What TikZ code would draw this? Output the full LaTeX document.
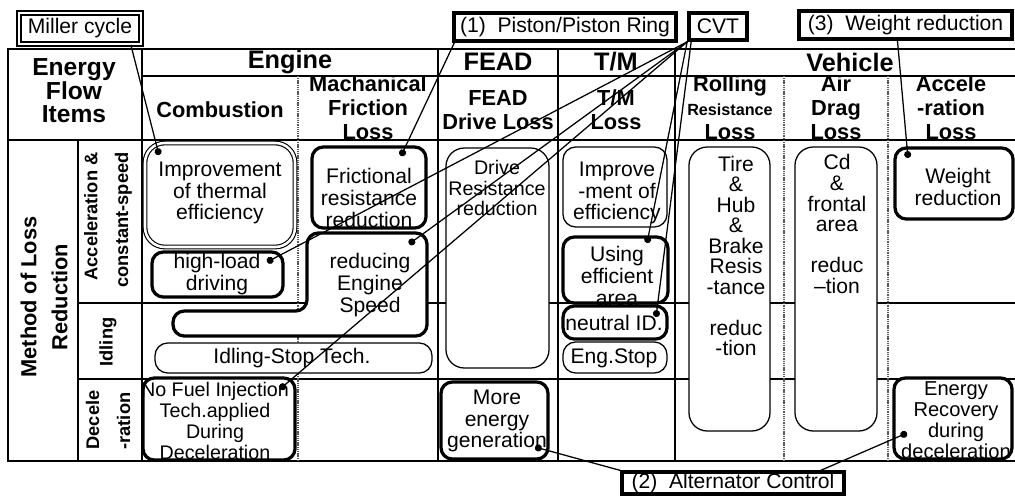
\documentclass[tikz,border=0pt]{standalone}
\usepackage{fontspec}
\setmainfont{Liberation Sans}
\usetikzlibrary{calc}
\usetikzlibrary{arrows.meta}
\newlength{\pu}
\setlength{\pu}{0.025cm}

\tikzset{
  tablerule/.style={line width=2pt},
  subrule/.style={line width=1.4pt},
  dashrule/.style={line width=2pt, black!65, dash pattern=on 0.8pt off 0.5pt},
  softbox/.style={draw, fill=white, line width=0.9pt, rounded corners=9pt},
  hardbox/.style={draw, fill=white, line width=2.3pt, rounded corners=8pt},
  calltag/.style={draw, fill=white, line width=2.2pt, inner sep=0pt, font=\fontsize{15}{15}\selectfont},
  txt/.style={align=center, inner sep=0pt, font=\fontsize{15}{15.4}\selectfont},
  hdr/.style={align=center, inner sep=0pt, font=\bfseries\fontsize{15.5}{17}\selectfont},
  toprow/.style={inner sep=0pt, font=\bfseries\fontsize{18}{20}\selectfont},
  sidelab/.style={rotate=90, inner sep=0pt, font=\bfseries\fontsize{13}{22}\selectfont},
  pointer/.style={line width=0.9pt, -{Circle[length=5pt]}}
}

\begin{document}
\begin{tikzpicture}[x=1\pu, y=-1\pu]
\useasboundingbox (0,0) rectangle (1015,496);

% table frame
\draw[tablerule] (1015,49) -- (8,49) -- (8,461) -- (1015,461);
\draw[tablerule] (142,76) -- (1015,76);
\draw[tablerule] (8,140) -- (1015,140);
\draw[subrule] (78,303) -- (1015,303);
\draw[subrule] (78,379) -- (1015,379);
\draw[subrule] (78,140) -- (78,461);
\draw[tablerule] (142,49) -- (142,461);
\foreach \xx in {438,558,675} \draw[tablerule] (\xx,49) -- (\xx,461);
\foreach \xx in {298,784,888} \draw[dashrule] (\xx,76) -- (\xx,461);

% headers
\node[hdr, font=\bfseries\fontsize{17.5}{16.7}\selectfont] (items) at (74,91) {Energy\\Flow\\Items};
\node[toprow] (engine) at (290,62) {Engine};
\node[toprow] (fead) at (498,62) {FEAD};
\node[toprow] (tm) at (616,62) {T/M};
\node[toprow] (vehicle) at (850,62) {Vehicle};
\node[hdr] (comb) at (220,110) {Combustion};
\node[hdr] (mech) at (368,108) {Machanical\\Friction\\Loss};
\node[hdr] (feadloss) at (498,110) {FEAD\\Drive Loss};
\node[hdr] (tmloss) at (616,110) {T/M\\Loss};
\node[hdr] (roll) at (730,108) {Rolling\\{\fontsize{11.5}{17}\selectfont Resistance}\\Loss};
\node[hdr] (airdrag) at (836,108) {Air\\Drag\\Loss};
\node[hdr] (accloss) at (951,108) {Accele\\-ration\\Loss};

% row labels
\node[sidelab, align=center, font=\bfseries\fontsize{15.5}{22}\selectfont] (method) at (44,297) {Method of Loss\\Reduction};
\node[sidelab, align=right] (accrow) at (108,220) {Acceleration \&\\constant-speed};
\node[sidelab] (idlrow) at (108,342) {Idling};
\node[sidelab, align=left] (decrow) at (108,420) {Decele\\-ration};

% engine
\draw[softbox, double, double distance=1.8pt, line width=0.8pt, rounded corners=14pt] (145,143) rectangle (295,247);
\node[txt] (thermal) at (220,193) {Improvement\\of thermal\\efficiency};
\draw[hardbox] (152,252) rectangle (283,297);
\node[txt] (highload) at (217,274) {high-load\\driving};
\draw[hardbox] (312,147) rectangle (426,228);
\node[txt] (fric) at (369,198) {Frictional\\resistance\\reduction};
\draw[hardbox] (307,233) -- (427,233) -- (427,336) -- (173,336) -- (173,311) -- (307,311) -- cycle;
\node[txt] (engspd) at (370,285) {reducing\\Engine\\Speed};
\draw[softbox] (155,343) rectangle (432,373);
\node[txt] (idlestop) at (292,358) {Idling-Stop Tech.};
\draw[hardbox] (143,378) rectangle (295,460);
\node[txt, font=\fontsize{14}{15}\selectfont] (nofuel) at (215,421) {No Fuel Injection\\Tech.applied\\During\\Deceleration};

% FEAD
\draw[softbox, rounded corners=13pt] (446,148) rectangle (549,368);
\node[txt, font=\fontsize{14}{14.6}\selectfont] (drive) at (497,188) {Drive\\Resistance\\reduction};
\draw[hardbox] (441,382) rectangle (548,459);
\node[txt] (moreen) at (497,421) {More\\energy\\generation};

% T/M
\draw[softbox] (563,147) rectangle (667,227);
\node[txt] (tmimp) at (617,193) {Improve\\-ment of\\efficiency};
\draw[hardbox] (563,237) rectangle (668,303);
\node[txt] (usearea) at (617,276) {Using\\efficient\\area};
\draw[hardbox] (563,306) rectangle (667,339);
\node[txt] (neutral) at (614,323) {neutral ID.};
\draw[softbox] (563,342) rectangle (667,373);
\node[txt] (engstop) at (614,358) {Eng.Stop};

% vehicle
\draw[softbox, rounded corners=13pt] (689,147) rectangle (770,431);
\node[txt, font=\fontsize{15}{14.6}\selectfont] (tire) at (736,256) {Tire\\\&\\Hub\\\&\\Brake\\Resis\\-tance\\[14.6pt]reduc\\-tion};
\draw[softbox, rounded corners=13pt] (795,147) rectangle (877,431);
\node[txt, font=\fontsize{15}{14.6}\selectfont] (cd) at (837,224) {Cd\\\&\\frontal\\area\\[14.6pt]reduc\\–tion};
\draw[hardbox] (895,148) rectangle (1013,219);
\node[txt] (weight) at (958,187) {Weight\\reduction};
\draw[hardbox] (894,378) rectangle (1012,459);
\node[txt, font=\fontsize{14.3}{15}\selectfont] (recov) at (956,420) {Energy\\Recovery\\during\\deceleration};

% callouts
\node[calltag, double, double distance=1.6pt, line width=1.2pt, minimum width=122\pu, minimum height=31\pu] (miller) at (80,28.5) {Miller cycle};
\node[calltag, minimum width=222\pu, minimum height=28\pu] (piston) at (565,27) {(1)\ \ Piston/Piston Ring};
\node[calltag, line width=2.6pt, minimum width=58\pu, minimum height=27\pu] (cvt) at (718,26.5) {CVT};
\node[calltag, minimum width=213\pu, minimum height=28\pu] (wcall) at (905.5,25) {(3)\ \ Weight reduction};
\node[calltag, minimum width=222\pu, minimum height=22\pu] (alt) at (733,483) {(2)\ \ Alternator Control};

% dot ends
\coordinate (dThermal) at (159,155);
\coordinate (dFric) at (401,156);
\coordinate (dHigh) at (267,262);
\coordinate (dSpeed) at (409,244);
\coordinate (dNoFuel) at (280,389);
\coordinate (dArea) at (647,243);
\coordinate (dNeutral) at (656,317);
\coordinate (dWeight) at (908,158);
\coordinate (dMore) at (535,447);
\coordinate (dRecov) at (907,433);

\draw[pointer] ($(miller.south east)+(-11,0)$) -- (dThermal);
\draw[pointer] ($(piston.south west)+(2,0)$) -- (dFric);
\foreach \tgt in {dHigh,dSpeed,dNoFuel,dArea}
  \draw[pointer] (cvt.south west) -- (\tgt);
\draw[pointer] ($(cvt.south west)+(4,0)$) -- (dNeutral);
\draw[pointer] ($(wcall.south west)+(100,0)$) -- (dWeight);
\draw[pointer] (alt.north west) -- (dMore);
\draw[pointer] ($(alt.north east)+(-25,0)$) -- (dRecov);
\end{tikzpicture}
\end{document}
